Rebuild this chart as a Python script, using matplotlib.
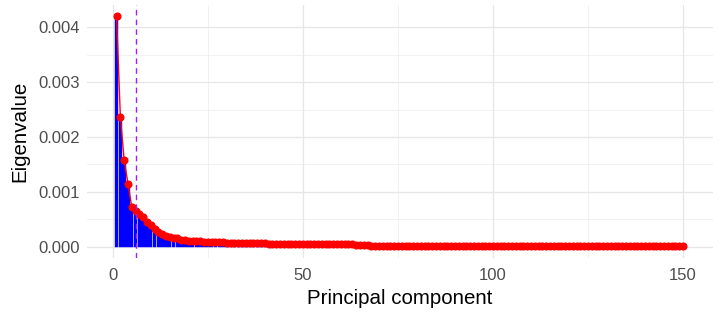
import matplotlib.pyplot as plt
import numpy as np

# eigenvalues of principal components 1..150
eig_head = [0.00420, 0.00237, 0.00158, 0.00115, 0.00072, 0.00065, 0.00059, 0.00055, 0.00045, 0.00040,
            0.00033, 0.00027, 0.00023, 0.00020, 0.00018, 0.00016, 0.00015, 0.00013, 0.00012, 0.00011,
            0.00011, 0.00010, 0.00010, 0.000095, 0.000090]
eig_mid = [0.000085, 0.000080, 0.000080, 0.000078, 0.000075, 0.000073, 0.000070, 0.000070, 0.000068, 0.000066,
           0.000065, 0.000063, 0.000062, 0.000060, 0.000060, 0.000058,
           0.000048, 0.000047, 0.000047, 0.000046, 0.000046, 0.000045, 0.000045, 0.000045, 0.000044, 0.000044,
           0.000044, 0.000043, 0.000043, 0.000043, 0.000042, 0.000042, 0.000042, 0.000042, 0.000041, 0.000041,
           0.000041, 0.000041, 0.000040, 0.000040, 0.000040, 0.000040]
eig_tail = [0.000016, 0.000016, 0.000016, 0.000016, 0.000016, 0.000016, 0.000016, 0.000016, 0.000016, 0.000016,
            0.000015, 0.000015, 0.000015, 0.000015, 0.000015, 0.000015, 0.000015, 0.000015, 0.000015, 0.000015,
            0.000015, 0.000015, 0.000015, 0.000015, 0.000015, 0.000015, 0.000015, 0.000015, 0.000015, 0.000015,
            0.000014, 0.000014, 0.000014, 0.000014, 0.000014, 0.000014, 0.000014, 0.000014, 0.000014, 0.000014,
            0.000014, 0.000014, 0.000014, 0.000014, 0.000014, 0.000014, 0.000014, 0.000014, 0.000014, 0.000014,
            0.000013, 0.000013, 0.000013, 0.000013, 0.000013, 0.000013, 0.000013, 0.000013, 0.000013, 0.000013,
            0.000013, 0.000013, 0.000013, 0.000013, 0.000013, 0.000013, 0.000013, 0.000013, 0.000013, 0.000013,
            0.000012, 0.000012, 0.000012, 0.000012, 0.000012, 0.000012, 0.000012, 0.000012, 0.000012, 0.000012,
            0.000012, 0.000012, 0.000012]
eigenvalues = eig_head + eig_mid + eig_tail
components = list(range(1, len(eigenvalues) + 1))
cutoff = 6

plt.rcParams['font.family'] = ['Liberation Sans', 'DejaVu Sans']

fig = plt.figure(figsize=(7.24, 3.22), dpi=100)
ax = fig.add_axes([0.1195, 0.198, 0.8655, 0.787])

ax.bar(components, eigenvalues, width=0.9, color='blue', edgecolor='blue', lw=0.3, zorder=2)
ax.plot(components, eigenvalues, color='red', lw=1, zorder=3)
ax.plot(components, eigenvalues, 'o', color='red', ms=4.8, zorder=4)
ax.axvline(cutoff, color='#A020F0', ls=(0, (4, 3)), lw=1, zorder=5)

ax.set_xlim(-6.9, 157.9)
ax.set_ylim(-0.00021, 0.00441)
ax.set_xticks([0, 50, 100, 150])
ax.set_xticks([25, 75, 125], minor=True)
ax.set_yticks([0, 0.001, 0.002, 0.003, 0.004])
ax.set_yticklabels(['0.000', '0.001', '0.002', '0.003', '0.004'])
ax.set_yticks([0.0005, 0.0015, 0.0025, 0.0035], minor=True)

ax.grid(which='major', color='#E6E6E6', lw=0.9, zorder=0)
ax.grid(which='minor', color='#EBEBEB', lw=0.5, zorder=0)
ax.set_axisbelow(True)
for s in ax.spines.values():
    s.set_visible(False)
ax.tick_params(which='both', length=0, labelsize=12, labelcolor='#4D4D4D', pad=5)
ax.tick_params(axis='x', pad=7)

ax.set_xlabel('Principal component', fontsize=14.8, labelpad=4)
ax.set_ylabel('Eigenvalue', fontsize=14.8, labelpad=6)

fig.savefig('out.png', dpi=100)
